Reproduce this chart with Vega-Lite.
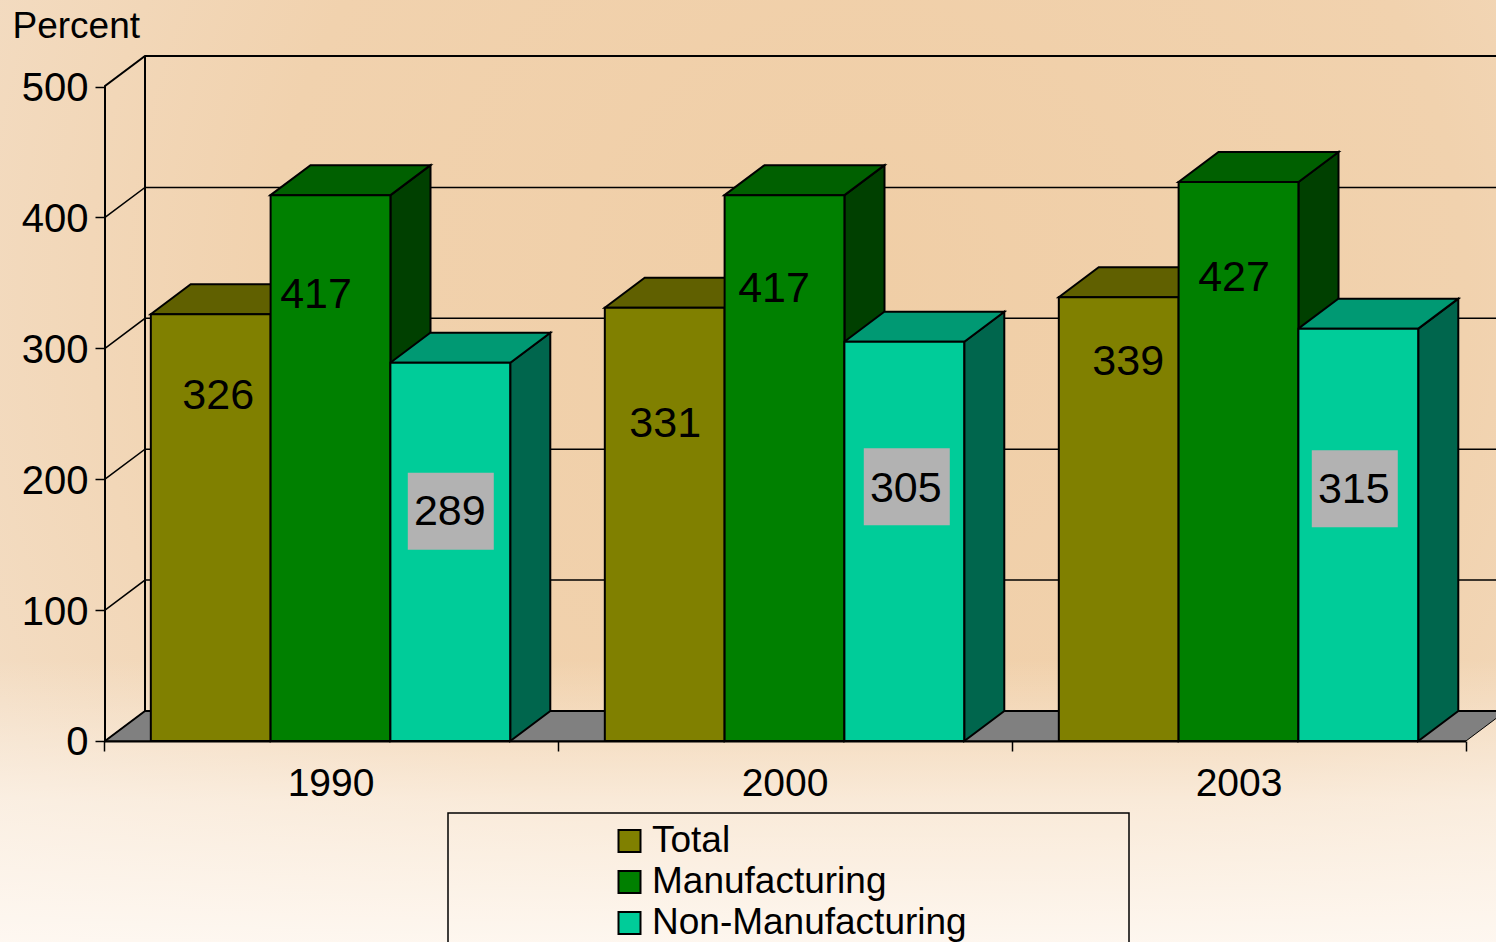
{
"$schema":"https://vega.github.io/schema/vega-lite/v6.json",
"width":1496,"height":942,"padding":0,"autosize":{"type":"none"},
"config":{"view":{"stroke":null},"font":"Liberation Sans"},
"datasets":{"bars":[
{"year":"1990","series":"Total","value":326},
{"year":"1990","series":"Manufacturing","value":417},
{"year":"1990","series":"Non-Manufacturing","value":289},
{"year":"2000","series":"Total","value":331},
{"year":"2000","series":"Manufacturing","value":417},
{"year":"2000","series":"Non-Manufacturing","value":305},
{"year":"2003","series":"Total","value":339},
{"year":"2003","series":"Manufacturing","value":427},
{"year":"2003","series":"Non-Manufacturing","value":315}],
"grid":[{"tick":100},{"tick":200},{"tick":300},{"tick":400}],
"one":[{"id":1}]},
"resolve":{"scale":{"fill":"independent"}},
"layer":[
{"data":{"name":"one"},"mark":{"type":"rect","fill":{"gradient":"radial","x1":0.58,"y1":0.38,"r1":0,"x2":0.58,"y2":0.38,"r2":0.8,"stops":[{"offset":0,"color":"#f0cea6"},{"offset":0.5,"color":"#f1d2ae"},{"offset":0.8,"color":"#f3dcc2"},{"offset":1,"color":"#f5e3cf"}]}}},
{"data":{"name":"one"},"mark":{"type":"rect","fill":{"gradient":"linear","x1":0,"y1":0,"x2":0,"y2":1,"stops":[{"offset":0,"color":"rgba(255,250,245,0)"},{"offset":0.7,"color":"rgba(255,250,245,0)"},{"offset":0.85,"color":"rgba(255,250,245,0.6)"},{"offset":1,"color":"rgba(255,250,245,0.9)"}]}}},
{"data":{"name":"one"},"mark":{"type":"point","filled":true,"opacity":1,"size":4,"fill":"#808080","stroke":"black","strokeWidth":1,"shape":"M1.5 0 L41.5 -30 L1402.5 -30 L1362.5 0 Z"},
 "encoding":{"x":{"datum":"1990","type":"nominal","bandPosition":0,"scale":{"domain":["1990","2000","2003"],"range":[103.5,1465.5],"paddingInner":0,"paddingOuter":0},"axis":{"title":null,"zindex":1,"offset":-201,"tickBand":"extent","labelAngle":0,"labelFontSize":39,"labelColor":"black","labelPadding":13,"tickSize":10,"tickColor":"black","tickWidth":1.5,"domainColor":"black","domainWidth":2,"grid":false}},
 "y":{"datum":0,"type":"quantitative","scale":{"domain":[-153.6,566.1],"nice":false,"zero":false},"axis":{"title":"Percent","zindex":1,"offset":-105,"values":[0,100,200,300,400,500],"domain":false,"grid":false,"tickSize":10,"tickColor":"black","tickWidth":1.5,"labelFontSize":40,"labelColor":"black","labelPadding":7,"labelOffset":2,"titleFontSize":37,"titleFontWeight":"normal","titleColor":"black","titleAngle":0,"titleAlign":"left","titleBaseline":"middle","titleX":-93,"titleY":26}}}},
{"data":{"name":"one"},"mark":{"type":"point","filled":false,"opacity":1,"size":4,"stroke":"black","strokeWidth":2,"shape":"M1.5 0 L1.5 -655 L41.5 -685 L1500 -685 M41.5 -685 L41.5 -30 L1500 -30 M1.5 0 L41.5 -30"},
 "encoding":{"x":{"datum":"1990","type":"nominal","bandPosition":0},"y":{"datum":0,"type":"quantitative"}}},
{"data":{"name":"grid"},"mark":{"type":"point","filled":false,"opacity":1,"size":4,"stroke":"black","strokeWidth":1.5,"shape":"M1.5 0 L41.5 -30 L1500 -30"},
 "encoding":{"x":{"datum":"1990","type":"nominal","bandPosition":0},"y":{"field":"tick","type":"quantitative"}}},
{"data":{"name":"one"},"mark":{"type":"point","filled":false,"opacity":1,"size":4,"stroke":"black","strokeWidth":1.5,"shape":"M344.5 72 L1025.5 72 L1025.5 400 L344.5 400 Z"},
 "encoding":{"x":{"datum":"1990","type":"nominal","bandPosition":0},"y":{"datum":0,"type":"quantitative"}}},
{"data":{"name":"bars"},
 "transform":[{"calculate":"'M60 0 L100 -30 L100 '+format(datum.value*1.309-30,'.1f')+' L60 '+format(datum.value*1.309,'.1f')+' Z'","as":"sidePath"}],
 "mark":{"type":"point","filled":true,"opacity":1,"size":4,"stroke":"black","strokeWidth":2},
 "encoding":{"x":{"field":"year","type":"nominal"},
 "xOffset":{"field":"series","type":"nominal","scale":{"domain":["Total","Manufacturing","Non-Manufacturing"],"paddingInner":0,"paddingOuter":0.395}},
 "y":{"field":"value","type":"quantitative"},
 "shape":{"field":"sidePath","type":"nominal","scale":null},
 "fill":{"field":"series","type":"nominal","legend":null,"scale":{"domain":["Total","Manufacturing","Non-Manufacturing"],"range":["#404000","#004000","#00664d"]}}}},
{"data":{"name":"bars"},
 "mark":{"type":"point","filled":true,"opacity":1,"size":4,"stroke":"black","strokeWidth":2,"shape":"M-60 0 L-20 -30 L100 -30 L60 0 Z"},
 "encoding":{"x":{"field":"year","type":"nominal"},
 "xOffset":{"field":"series","type":"nominal"},
 "y":{"field":"value","type":"quantitative"},
 "fill":{"field":"series","type":"nominal","legend":null,"scale":{"domain":["Total","Manufacturing","Non-Manufacturing"],"range":["#606000","#006000","#009973"]}}}},
{"data":{"name":"bars"},
 "mark":{"type":"bar","stroke":"black","strokeWidth":2},
 "encoding":{"x":{"field":"year","type":"nominal"},
 "xOffset":{"field":"series","type":"nominal"},
 "y":{"field":"value","type":"quantitative","stack":null},
 "fill":{"field":"series","type":"nominal","scale":{"domain":["Total","Manufacturing","Non-Manufacturing"],"range":["#808000","#008000","#00cc99"]},"legend":{"title":null,"orient":"none","legendX":611,"legendY":823,"padding":0,"symbolType":"square","symbolSize":484,"symbolStrokeColor":"black","symbolStrokeWidth":2,"labelFontSize":37,"labelColor":"black","labelOffset":4,"labelLimit":500,"rowPadding":4,"clipHeight":36}}}},
{"data":{"name":"bars"},
 "transform":[{"filter":"datum.series==='Non-Manufacturing'"},
 {"calculate":"{'1990':[0.5,148.5],'2000':[2.5,145],'2003':[-3.5,160]}[datum.year]","as":"off"},
 {"calculate":"'M'+(datum.off[0]-43)+' '+(datum.off[1]-38.5)+' h86 v77 h-86 Z'","as":"boxPath"}],
 "mark":{"type":"point","filled":true,"opacity":1,"size":4,"fill":"#b2b2b2","stroke":null},
 "encoding":{"x":{"field":"year","type":"nominal"},"xOffset":{"field":"series","type":"nominal"},"y":{"field":"value","type":"quantitative"},"shape":{"field":"boxPath","type":"nominal","scale":null}}},
{"data":{"name":"bars"},
 "transform":[{"calculate":"{'1990T':[7.5,82],'1990M':[-14.5,100],'1990N':[-0.5,149],'2000T':[0.5,116],'2000M':[-10.5,94],'2000N':[1.5,147],'2003T':[9.5,65],'2003M':[-4.5,96],'2003N':[-4.5,161]}[datum.year+datum.series[0]]","as":"off"}],
 "mark":{"type":"text","fontSize":43,"color":"black","align":"center","baseline":"middle","dx":{"expr":"datum.off[0]"},"dy":{"expr":"datum.off[1]"}},
 "encoding":{"x":{"field":"year","type":"nominal"},"xOffset":{"field":"series","type":"nominal"},"y":{"field":"value","type":"quantitative"},"text":{"field":"value","type":"quantitative"}}}
]}
